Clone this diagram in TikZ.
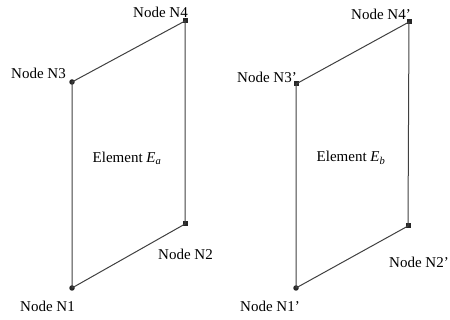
\documentclass[tikz,border=0pt]{standalone}
\usepackage{fontspec}
\setmainfont{Liberation Serif}
\begin{document}
\begin{tikzpicture}[x=1pt,y=-1pt,
  pt/.style={circle,fill=black!85,inner sep=0pt,minimum size=5.5pt},
  ptsq/.style={rectangle,fill=black!85,inner sep=0pt,minimum size=5pt},
  edge/.style={draw=black!75,line width=1pt},
  lbl/.style={font=\fontsize{15}{17}\selectfont,inner sep=0pt},
  elem/.style={font=\fontsize{15}{17}\selectfont,inner sep=0pt}]
\useasboundingbox (0,0) rectangle (450,320);
% left element
\node[pt] (n1) at (72,288) {};
\node[ptsq] (n2) at (185,224) {};
\node[pt] (n3) at (72,82) {};
\node[ptsq] (n4) at (185,21) {};
\draw[edge] (n1.center) -- (n2.center) -- (n4.center) -- (n3.center) -- cycle;
\node[lbl,anchor=base east] (l4) at (188,18) {Node N4};
\node[lbl,anchor=base east] (l3) at (66,79) {Node N3};
\node[lbl,anchor=base west] (l2) at (158,260) {Node N2};
\node[lbl,anchor=base west] (l1) at (20,312) {Node N1};
\node[elem] (ea) at (127,158) {Element \textit{E}\textsubscript{\textit{a}}};
% right element
\node[pt] (m1) at (296,288) {};
\node[ptsq] (m2) at (408,226) {};
\node[ptsq] (m3) at (296,84) {};
\node[ptsq] (m4) at (409,22) {};
\draw[edge] (m1.center) -- (m2.center) -- (m4.center) -- (m3.center) -- cycle;
\node[lbl,anchor=base east] (k4) at (411,20) {Node N4'};
\node[lbl,anchor=base east] (k3) at (297,83) {Node N3'};
\node[lbl,anchor=base west] (k2) at (389,268) {Node N2'};
\node[lbl,anchor=base west] (k1) at (240,312) {Node N1'};
\node[elem] (eb) at (351,158) {Element \textit{E}\textsubscript{\textit{b}}};
\end{tikzpicture}
\end{document}
